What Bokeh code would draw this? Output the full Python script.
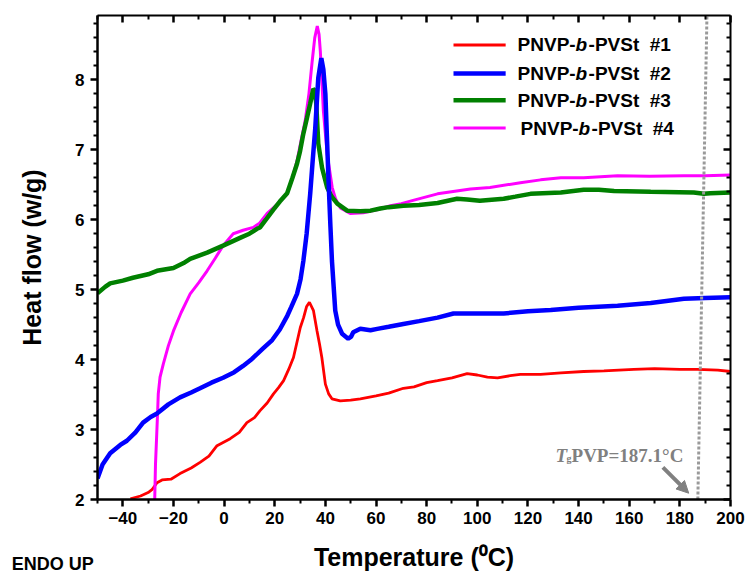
from bokeh.plotting import figure
from bokeh.models import LinearAxis, Range1d, Label, Arrow, NormalHead, FixedTicker
from bokeh.embed import file_html
from bokeh.resources import INLINE

# DSC heating traces, temperature (°C) vs heat flow (W/g)
t1 = [-37, -33, -30, -28.5, -26.5, -24.5, -21, -17.4, -13, -9.5, -6, -2.8, 2.4, 6, 9, 12,
      14.2, 17, 19.5, 21.5, 23.5, 25.5, 27.4, 30.1, 31.4, 32.6, 33.7, 35.3, 36.7, 37.7,
      38.6, 40, 41.3, 42.6, 45.9, 50, 53.8, 60, 65, 70.8, 75, 80, 84.3, 90, 96, 100, 104,
      108, 113, 117, 125, 133, 142, 150, 161.8, 170, 180, 187, 195, 200]
hf1 = [2.01, 2.05, 2.10, 2.14, 2.24, 2.28, 2.29, 2.37, 2.45, 2.53, 2.62, 2.77, 2.87, 2.96,
       3.10, 3.17, 3.27, 3.38, 3.51, 3.60, 3.70, 3.86, 4.03, 4.46, 4.60, 4.76, 4.82, 4.70,
       4.41, 4.22, 4.03, 3.65, 3.51, 3.44, 3.41, 3.42, 3.44, 3.48, 3.52, 3.59, 3.61, 3.67,
       3.70, 3.74, 3.80, 3.78, 3.75, 3.74, 3.77, 3.79, 3.79, 3.81, 3.83, 3.84, 3.86, 3.87,
       3.86, 3.86, 3.85, 3.83]

t2 = [-50, -48, -45, -41, -38.4, -35, -32, -29, -26.5, -22, -17.4, -13, -9.5, -5, -0.4, 4,
      7.5, 11, 15.4, 19, 22, 25, 26.5, 28.8, 30.2, 31.3, 32.6, 34, 35, 36, 37.2, 38.4, 39.2,
      40, 40.6, 41.2, 42, 42.6, 43.9, 45, 46.6, 49, 50.2, 51, 53.8, 57.8, 60.5, 65, 70.8,
      77, 84.3, 90.6, 100, 110.4, 120, 129, 140, 155.4, 168.5, 181.6, 190, 200]
hf2 = [2.30, 2.50, 2.66, 2.78, 2.84, 2.96, 3.10, 3.18, 3.23, 3.36, 3.46, 3.53, 3.59, 3.67,
       3.74, 3.82, 3.91, 4.01, 4.16, 4.28, 4.43, 4.63, 4.75, 4.94, 5.15, 5.41, 5.80, 6.37,
       6.85, 7.31, 8.03, 8.31, 8.15, 7.80, 7.20, 6.60, 5.90, 5.41, 4.70, 4.50, 4.37, 4.30,
       4.33, 4.39, 4.44, 4.42, 4.44, 4.47, 4.51, 4.55, 4.60, 4.66, 4.66, 4.66, 4.69, 4.71,
       4.74, 4.77, 4.81, 4.87, 4.88, 4.89]

t3 = [-50, -47, -45, -40, -36, -30, -26.5, -20, -16, -13.4, -6.7, -0.4, 6.3, 10, 13, 14.2,
      16.5, 19.4, 22, 24.9, 27, 28.8, 30, 31.3, 32.7, 34, 35.2, 35.8, 36.4, 37.2, 38.7,
      40.7, 42.5, 44.7, 48.6, 53.8, 57.8, 61.7, 65, 70.8, 77, 84.3, 92, 96, 101, 110.4,
      115, 121, 133, 142, 148, 154, 168.5, 185.5, 189.5, 192, 200]
hf3 = [4.95, 5.04, 5.09, 5.13, 5.17, 5.22, 5.27, 5.31, 5.38, 5.44, 5.53, 5.63, 5.74, 5.80,
       5.87, 5.89, 6.00, 6.14, 6.26, 6.38, 6.60, 6.80, 6.98, 7.23, 7.45, 7.66, 7.87, 7.85,
       7.66, 7.09, 6.74, 6.46, 6.33, 6.23, 6.13, 6.12, 6.13, 6.16, 6.18, 6.20, 6.21, 6.24,
       6.30, 6.29, 6.27, 6.30, 6.33, 6.37, 6.39, 6.43, 6.43, 6.41, 6.40, 6.39, 6.37, 6.38,
       6.39]

t4 = [-27.4, -27.1, -26.6, -26.2, -26, -25.3, -24, -22, -20, -17, -13.4, -10, -6.7, -3.5,
      -0.4, 3.6, 7.5, 11.5, 14, 17, 21, 24.9, 27, 28.8, 30.5, 32, 33.5, 34.8, 35.8, 36.8,
      37.5, 38, 38.6, 39.2, 40.7, 42.7, 44, 45.9, 49.8, 55, 60, 65.7, 70, 75, 84.3, 97.3,
      105, 117, 125, 133, 142, 155.4, 168, 181.6, 190, 200]
hf4 = [2.00, 2.50, 2.94, 3.30, 3.51, 3.75, 3.94, 4.20, 4.41, 4.67, 4.94, 5.10, 5.27, 5.45,
       5.63, 5.80, 5.85, 5.89, 5.95, 6.09, 6.22, 6.37, 6.60, 6.84, 7.15, 7.41, 7.80, 8.27,
       8.60, 8.77, 8.65, 8.41, 8.00, 7.56, 6.94, 6.46, 6.30, 6.17, 6.09, 6.10, 6.14, 6.20,
       6.23, 6.28, 6.37, 6.44, 6.46, 6.53, 6.57, 6.60, 6.60, 6.63, 6.62, 6.63, 6.63, 6.64]

series_names = ["#1", "#2", "#3", "#4"]
series_colors = ["#ff0000", "#0000ff", "#008000", "#ff00ff"]

# glass transition of the PVP block
tg_value = 187.1
tg_line_x = [tg_value, 190.7]
tg_line_y = [2.0, 8.92]

x_lo, x_hi = -50, 200
y_lo, y_hi = 2, 8.92
x_major = list(range(-40, 201, 20))
x_minor = [v for v in range(-50, 201, 10) if v not in x_major]
y_major = list(range(2, 9))
y_minor = [round(2 + 0.2 * i, 1) for i in range(35) if i % 5 != 0]

FONT = "Liberation Sans"

p = figure(width=747, height=577, x_range=Range1d(x_lo, x_hi),
           y_range=Range1d(y_lo, y_hi), output_backend="svg", toolbar_location=None,
           min_border_left=97, min_border_right=17, min_border_top=15,
           min_border_bottom=78)
p.outline_line_color = None
p.xgrid.visible = False
p.ygrid.visible = False
p.background_fill_color = "white"
p.border_fill_color = "white"


def style_main(ax, ticker):
    ax.ticker = ticker
    ax.axis_line_width = 2.5
    ax.axis_line_color = "black"
    ax.major_tick_line_width = 2.5
    ax.minor_tick_line_width = 2
    ax.major_tick_out = 7
    ax.major_tick_in = 0
    ax.minor_tick_out = 4
    ax.minor_tick_in = 0
    ax.major_label_text_font = FONT
    ax.major_label_text_font_style = "bold"
    ax.major_label_text_font_size = "17px"
    ax.major_label_text_color = "black"
    ax.axis_label_text_font = FONT
    ax.axis_label_text_font_style = "bold"
    ax.axis_label_text_font_size = "25px"
    ax.axis_label_text_color = "black"


style_main(p.xaxis[0], FixedTicker(ticks=x_major, minor_ticks=x_minor))
style_main(p.yaxis[0], FixedTicker(ticks=y_major, minor_ticks=y_minor))
p.yaxis.axis_label = "Heat flow (w/g)"
p.xaxis.major_label_standoff = 5
p.yaxis.major_label_standoff = 6
p.yaxis.axis_label_standoff = 26


def mirror_axis(major, minor):
    # unlabeled axis with inward ticks closing the frame
    return LinearAxis(ticker=FixedTicker(ticks=major, minor_ticks=minor),
                      major_label_overrides={v: "" for v in major},
                      axis_line_width=2, axis_line_color="black",
                      major_tick_line_width=2.5, minor_tick_line_width=2,
                      major_tick_in=7, major_tick_out=0,
                      minor_tick_in=4, minor_tick_out=0, major_label_standoff=0)


p.add_layout(mirror_axis(x_major, x_minor), "above")
p.add_layout(mirror_axis(y_major, y_minor), "right")

# traces; drawing order keeps the thick curves on top
p.line(t1, hf1, line_color=series_colors[0], line_width=2.8)
p.line(t4, hf4, line_color=series_colors[3], line_width=3)
p.line(t3, hf3, line_color=series_colors[2], line_width=4.5)
p.line(t2, hf2, line_color=series_colors[1], line_width=4.5)

# Tg marker
p.line(tg_line_x, tg_line_y, line_color="#9a9a9a", line_width=3, line_dash="3 2")

GREY = "#808080"
tg_x, tg_y = 130.9, 2.63
p.add_layout(Label(x=tg_x, y=tg_y, text="T", text_font="Liberation Serif",
                   text_font_style="bold italic", text_font_size="19px",
                   text_color=GREY, text_baseline="alphabetic"))
p.add_layout(Label(x=tg_x, y=tg_y, x_offset=11, y_offset=-3, text="g",
                   text_font="Liberation Serif", text_font_style="bold",
                   text_font_size="10px", text_color=GREY, text_baseline="alphabetic"))
p.add_layout(Label(x=tg_x, y=tg_y, x_offset=16,
                   text="PVP=%.1f\u00b0C" % tg_value, text_font="Liberation Serif",
                   text_font_style="bold", text_font_size="19px", text_color=GREY,
                   text_baseline="alphabetic"))
p.add_layout(Arrow(end=NormalHead(size=12, fill_color=GREY, line_color=GREY),
                   x_start=173.3, y_start=2.46, x_end=183.5, y_end=2.09,
                   line_color=GREY, line_width=4))

# legend
leg_x0, leg_x1, leg_tx = 90.6, 111.2, 115.9
leg_rows = [8.5, 8.09, 7.71, 7.31]
leg_widths = [3, 4.5, 4.5, 3]
for i, (name, col) in enumerate(zip(series_names, series_colors)):
    yy = leg_rows[i]
    p.add_layout(Arrow(end=None, x_start=leg_x0, y_start=yy, x_end=leg_x1, y_end=yy,
                       line_color=col, line_width=leg_widths[i]))
    dx = 3 if i == 3 else 0
    common = dict(y=yy, x=leg_tx, text_font=FONT, text_font_size="19px",
                  text_color="black", text_baseline="middle")
    p.add_layout(Label(x_offset=dx, text="PNVP-", text_font_style="bold", **common))
    p.add_layout(Label(x_offset=dx + 58, text="b", text_font_style="bold italic", **common))
    p.add_layout(Label(x_offset=dx + 71, text="-PVSt\u00a0\u00a0" + name,
                       text_font_style="bold", **common))

# texts under the frame live in the bottom panel so they are not clipped
p.add_layout(Label(x=(x_lo + x_hi) / 2, y=1.18, text="Temperature (\u2070C)",
                   text_align="center", text_baseline="middle",
                   text_font=FONT, text_font_style="bold", text_font_size="25px",
                   text_color="black"), "below")
p.add_layout(Label(x=-83.9, y=1.081, text="ENDO UP", text_baseline="middle",
                   text_font=FONT, text_font_style="bold", text_font_size="18px",
                   text_color="black"), "below")

open("out.html", "w").write(file_html(p, INLINE))
